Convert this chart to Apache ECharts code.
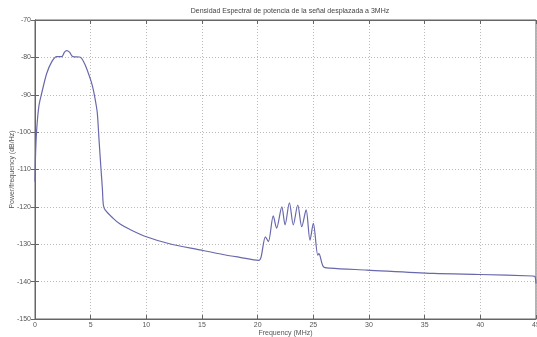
<!DOCTYPE html>
<html>
<head>
<meta charset="utf-8">
<script src="https://cdn.jsdelivr.net/npm/echarts@6/dist/echarts.min.js"></script>
<style>html,body{margin:0;padding:0;background:#fff;}#c{width:537px;height:337px;}</style>
</head>
<body>
<div id="c"></div>
<script>
const titleText = 'Densidad Espectral de potencia de la señal desplazada a 3MHz';
const xName = 'Frequency (MHz)';
const yName = 'Power/frequency (dB/Hz)';
const xTicks = [0, 5, 10, 15, 20, 25, 30, 35, 40, 45];
const yTicks = [-150, -140, -130, -120, -110, -100, -90, -80, -70];
const freqMHz = [0, 0.05, 0.15, 0.35, 0.6, 1.05, 1.5, 1.95, 2.4, 2.65, 2.85, 3.1, 3.4, 4.0, 4.2, 4.5, 4.8, 5.05, 5.24, 5.45, 5.6, 5.75, 5.93, 6.05, 6.14, 6.3, 7.0, 7.64, 8.5, 10.0, 12.0, 14.8, 17.0, 18.4, 20.1, 20.3, 20.7, 20.96, 21.4, 21.7, 22.17, 22.46, 22.85, 23.2, 23.6, 23.96, 24.35, 24.7, 25.0, 25.4, 25.5, 25.9, 26.5, 29.8, 35.8, 40.0, 44.7, 44.9, 45.0];
const psdDb = [-113.3, -106, -99.4, -93, -89.6, -84.3, -81.2, -79.8, -79.8, -78.6, -78.2, -78.6, -79.8, -79.9, -80.3, -82, -84.3, -86.5, -88.7, -92, -95, -102, -110, -115, -119.5, -120.8, -123, -124.6, -126, -128, -129.8, -131.5, -132.8, -133.5, -134.3, -133.5, -128, -129.3, -122.4, -125.7, -120, -124.8, -118.9, -124.8, -119.5, -125.3, -120.8, -128.9, -124.4, -132.9, -132.5, -136, -136.4, -136.9, -137.8, -138.1, -138.5, -138.6, -140.5];

const chart = echarts.init(document.getElementById('c'), null, {renderer: 'canvas'});
const txt = '#555';
const font = 'Liberation Sans';
const axisLine = {show: true, lineStyle: {color: '#666', width: 1}};
const tick = {show: true, inside: true, length: 4, lineStyle: {color: '#666'}};
chart.setOption({
  backgroundColor: '#fff',
  animation: false,
  title: {text: titleText, left: 285, top: 3, textAlign: 'center',
    textStyle: {fontSize: 7, fontWeight: 'normal', color: '#444', fontFamily: font}},
  grid: {left: 35, right: 1, top: 20, bottom: 18, show: true, borderColor: '#666', borderWidth: 1,
    containLabel: false, outerBoundsMode: 'none'},
  xAxis: [{
    type: 'value', min: 0, max: 45, interval: 5,
    name: xName, nameLocation: 'middle', nameGap: 11, nameMoveOverlap: false,
    nameTextStyle: {fontSize: 7, color: txt, fontFamily: font},
    axisLine: axisLine, axisTick: tick,
    axisLabel: {fontSize: 7, color: txt, fontFamily: font, margin: 3, showMaxLabel: true},
    splitLine: {show: true, lineStyle: {color: '#bbb', type: [1, 2], width: 1}}
  }, {
    type: 'value', position: 'top', min: 0, max: 45, interval: 5,
    axisLine: axisLine, axisTick: tick, axisLabel: {show: false}, splitLine: {show: false}
  }],
  yAxis: [{
    type: 'value', min: -150, max: -70, interval: 10,
    name: yName, nameLocation: 'middle', nameGap: 19, nameRotate: 90, nameMoveOverlap: false,
    nameTextStyle: {fontSize: 7, color: txt, fontFamily: font},
    axisLine: axisLine, axisTick: tick,
    axisLabel: {fontSize: 7, color: txt, fontFamily: font, margin: 4},
    splitLine: {show: true, lineStyle: {color: '#bbb', type: [1, 2], width: 1}}
  }, {
    type: 'value', position: 'right', min: -150, max: -70, interval: 10,
    axisLine: axisLine, axisTick: tick, axisLabel: {show: false}, splitLine: {show: false}
  }],
  series: [{
    type: 'line',
    data: freqMHz.map((f, i) => [f, psdDb[i]]),
    showSymbol: false,
    smooth: 0.3,
    lineStyle: {color: '#6868ac', width: 1.2},
    clip: true
  }]
});
</script>
</body>
</html>
